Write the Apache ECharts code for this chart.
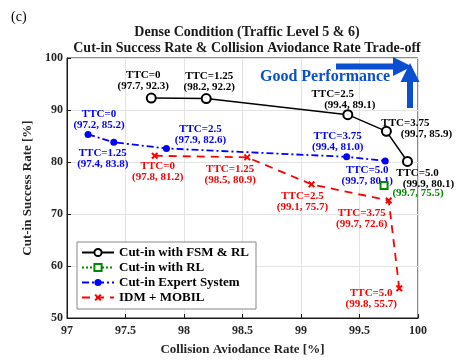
<!DOCTYPE html>
<html><head><meta charset="utf-8">
<script src="https://cdn.jsdelivr.net/npm/echarts@6/dist/echarts.min.js"></script>
<style>html,body{margin:0;padding:0;background:#fff}#c{width:459px;height:362px}</style>
</head><body><div id="c"></div>
<script>
// ---- data ----
const fsmRL = [[97.72, 92.3], [98.19, 92.2], [99.40, 89.1], [99.73, 85.9], [99.91, 80.1]];
const fsmRLLabels = [['TTC=0', '(97.7, 92.3)'], ['TTC=1.25', '(98.2, 92.2)'], ['TTC=2.5', '(99.4, 89.1)'], ['TTC=3.75', '(99.7, 85.9)'], ['TTC=5.0', '(99.9, 80.1)']];
const rlOnly = [[99.71, 75.5]];
const rlOnlyLabels = [['(99.7, 75.5)']];
const expert = [[97.18, 85.3], [97.40, 83.8], [97.85, 82.6], [99.39, 81.0], [99.72, 80.2]];
const expertLabels = [['TTC=0', '(97.2, 85.2)'], ['TTC=1.25', '(97.4, 83.8)'], ['TTC=2.5', '(97.9, 82.6)'], ['TTC=3.75', '(99.4, 81.0)'], ['TTC=5.0', '(99.7, 80.1)']];
const idm = [[97.75, 81.2], [98.54, 80.9], [99.09, 75.7], [99.75, 72.6], [99.84, 55.7]];
const idmLabels = [['TTC=0', '(97.8, 81.2)'], ['TTC=1.25', '(98.5, 80.9)'], ['TTC=2.5', '(99.1, 75.7)'], ['TTC=3.75', '(99.7, 72.6)'], ['TTC=5.0', '(99.8, 55.7)']];
const seriesNames = ['Cut-in with FSM & RL', 'Cut-in with RL', 'Cut-in Expert System', 'IDM + MOBIL'];
const xTicks = [97, 97.5, 98, 98.5, 99, 99.5, 100];
const yTicks = [50, 60, 70, 80, 90, 100];
const titleLines = ['Dense Condition (Traffic Level 5 & 6)', 'Cut-in Success Rate & Collision Aviodance Rate Trade-off'];

// ---- layout (label offsets: dx, dy, first-line right padding) ----
const fsmOff = [[-8, -17, 0], [3, -17, 0], [2, -15, 34], [40, -3, 42], [21, 17, 22]];
const rlOff = [[34, 8, 0]];
const expOff = [[11, -15, 0], [-11, 16, 0], [34, -14, 0], [-9, -15, 0], [-18, 15, 0]];
const idmOff = [[3, 16, 0], [-17, 17, 0], [-9, 17, 0], [-27, 18, 0], [-28, 10, 0]];

const FONT = 'Liberation Serif';
const xSym = 'path://M0,2 L2,0 L5,3 L8,0 L10,2 L7,5 L10,8 L8,10 L5,7 L2,10 L0,8 L3,5 Z';

function mkData(pts, labels, offs, color) {
  return pts.map((p, i) => {
    const o = offs[i];
    const lines = labels[i];
    const fmt = lines.length === 2 ? '{a|' + lines[0] + '}\n{b|' + lines[1] + '}' : '{b|' + lines[0] + '}';
    return {
      value: p,
      label: {
        show: true, position: 'inside', offset: [o[0], o[1]],
        formatter: fmt, align: 'center', verticalAlign: 'middle',
        rich: {
          a: { color: color, fontFamily: FONT, fontWeight: 'bold', fontSize: 11, lineHeight: 11, padding: [0, o[2], 0, 0] },
          b: { color: color, fontFamily: FONT, fontWeight: 'bold', fontSize: 11, lineHeight: 11 }
        }
      }
    };
  });
}

const chart = echarts.init(document.getElementById('c'), null, { renderer: 'canvas' });
const axisText = { color: '#262626', fontFamily: FONT, fontWeight: 'bold', fontSize: 12 };
const blue2 = '#0a4fd0';
chart.setOption({
  backgroundColor: '#fff',
  animation: false,
  textStyle: { fontFamily: FONT },
  title: [
    { text: titleLines.join('\n'), left: 242, top: 20, textAlign: 'center',
      textStyle: { fontFamily: FONT, fontWeight: 'bold', fontSize: 14, lineHeight: 15.5, color: '#1a1a1a' } },
    { text: '(c)', left: 6, top: 5, textStyle: { fontFamily: FONT, fontWeight: 'normal', fontSize: 14, color: '#000' } }
  ],
  grid: { left: 67, right: 41, top: 58, bottom: 44, show: true, borderColor: '#1a1a1a', borderWidth: 1, backgroundColor: 'transparent' },
  xAxis: {
    type: 'value', min: 97, max: 100, interval: 0.5,
    name: 'Collision Aviodance Rate [%]', nameLocation: 'middle', nameGap: 25,
    nameTextStyle: { color: '#262626', fontFamily: FONT, fontWeight: 'bold', fontSize: 13 },
    axisLine: { show: true, lineStyle: { color: '#1a1a1a', width: 1 } },
    axisTick: { show: true, inside: true, length: 4, lineStyle: { color: '#1a1a1a' } },
    axisLabel: Object.assign({ margin: 7, formatter: v => xTicks.includes(v) ? String(v) : '' }, axisText),
    splitLine: { show: true, lineStyle: { color: '#e3e3e3', width: 1 } }
  },
  yAxis: {
    type: 'value', min: 50, max: 100, interval: 10,
    name: 'Cut-in Success Rate [%]', nameLocation: 'middle', nameGap: 21,
    nameTextStyle: { color: '#262626', fontFamily: FONT, fontWeight: 'bold', fontSize: 13 },
    axisLine: { show: true, lineStyle: { color: '#1a1a1a', width: 1 } },
    axisTick: { show: true, inside: true, length: 4, lineStyle: { color: '#1a1a1a' } },
    axisLabel: Object.assign({ margin: 4, formatter: v => yTicks.includes(v) ? String(v) : '' }, axisText),
    splitLine: { show: true, lineStyle: { color: '#e3e3e3', width: 1 } }
  },
  legend: {
    orient: 'vertical', left: 77, top: 242, padding: [4, 7, 5, 4],
    backgroundColor: '#fff', borderColor: '#888', borderWidth: 1,
    itemWidth: 32, itemHeight: 9, itemGap: 2,
    textStyle: { fontFamily: FONT, fontWeight: 'bold', fontSize: 13, lineHeight: 13, color: '#000' },
    data: seriesNames
  },
  series: [
    { name: seriesNames[0], type: 'line', data: mkData(fsmRL, fsmRLLabels, fsmOff, '#000'),
      symbol: 'emptyCircle', symbolSize: 9, itemStyle: { color: '#000', borderWidth: 1.5 },
      lineStyle: { color: '#000', width: 1.5 }, z: 4 },
    { name: seriesNames[1], type: 'line', data: mkData(rlOnly, rlOnlyLabels, rlOff, '#008a00'),
      symbol: 'emptyRect', symbolSize: 7, itemStyle: { color: '#008a00', borderWidth: 1.5 },
      lineStyle: { color: '#008a00', width: 1.5, type: 'dotted' }, z: 5 },
    { name: seriesNames[2], type: 'line', data: mkData(expert, expertLabels, expOff, '#0000ff'),
      symbol: 'circle', symbolSize: 7, itemStyle: { color: '#0000ff' },
      lineStyle: { color: '#0000ff', width: 1.8, type: [7, 3, 2, 3] }, z: 3 },
    { name: seriesNames[3], type: 'line', data: mkData(idm, idmLabels, idmOff, '#ff0000'),
      symbol: xSym, symbolSize: 7, itemStyle: { color: '#ff0000' },
      lineStyle: { color: '#ff0000', width: 1.8, type: [8, 6] }, z: 3 }
  ],
  graphic: [
    { type: 'text', left: 260, top: 69, z: 10, style: { text: 'Good Performance', fill: blue2, font: 'bold 16px "Liberation Serif"' } },
    { type: 'rect', z: 10, shape: { x: 336, y: 63.5, width: 59, height: 6 }, style: { fill: blue2 } },
    { type: 'polygon', z: 10, shape: { points: [[393, 57], [412, 66.5], [393, 76]] }, style: { fill: blue2 } },
    { type: 'rect', z: 10, shape: { x: 407, y: 80, width: 6, height: 28 }, style: { fill: blue2 } },
    { type: 'polygon', z: 10, shape: { points: [[400.5, 82], [410, 63], [419.5, 82]] }, style: { fill: blue2 } }
  ]
});
</script></body></html>
